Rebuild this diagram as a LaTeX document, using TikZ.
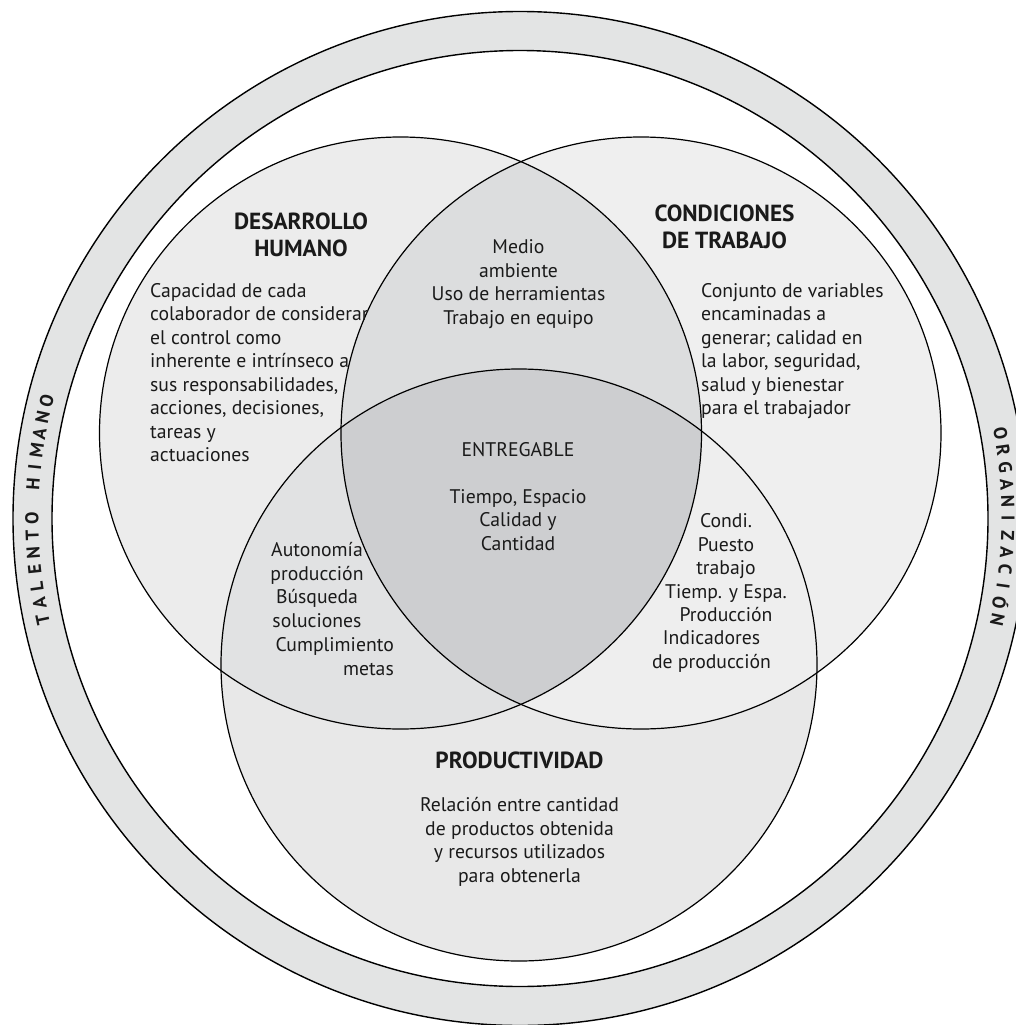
\documentclass[tikz,border=0pt]{standalone}
\usepackage{fontspec}
\setmainfont{PT Sans}
\usetikzlibrary{calc}
\definecolor{ringc}{HTML}{E3E4E4}
\definecolor{lc}{HTML}{ECECEC}
\definecolor{rc}{HTML}{EFEFEF}
\definecolor{bc}{HTML}{E8E8E8}
\definecolor{lrc}{HTML}{DCDDDE}
\definecolor{lbc}{HTML}{E1E2E3}
\definecolor{rbc}{HTML}{EEEEEE}
\definecolor{cc}{HTML}{CDCED0}
\definecolor{txc}{HTML}{1A1A1A}
\begin{document}
\begin{tikzpicture}[x=1pt,y=-1pt,
  txt/.style={font=\fontsize{19.7}{23.5}\selectfont, text=txc, inner sep=0pt},
  ttl/.style={font=\fontsize{23.3}{27}\selectfont\bfseries, text=txc, inner sep=0pt},
  ringtxt/.style={font=\fontsize{18.5}{20}\selectfont\bfseries, text=txc, inner sep=0pt},
  vline/.style={draw=black, line width=1.2pt},
  rline/.style={draw=black, line width=1.4pt}]
\useasboundingbox (0,0) rectangle (1016,1025);
\clip (0,0) rectangle (1016,1025);
\fill[white] (0,0) rectangle (1016,1025);
% outer ring
\coordinate (C) at (520,518.5);
\fill[ringc, even odd rule] (C) circle[radius=507pt] (C) circle[radius=468pt];
\draw[rline] (C) circle[radius=507pt];
\draw[rline] (C) circle[radius=468pt];
% venn circles
\coordinate (cl) at (400.5,433);
\coordinate (cr) at (641,433);
\coordinate (cb) at (519,665);
\fill[lc] (cl) ellipse[x radius=301pt, y radius=296pt];
\fill[rc] (cr) ellipse[x radius=300pt, y radius=296pt];
\fill[bc] (cb) ellipse[x radius=298pt, y radius=296pt];
\begin{scope}
  \clip (cl) ellipse[x radius=301pt, y radius=296pt];
  \fill[lrc] (cr) ellipse[x radius=300pt, y radius=296pt];
  \fill[lbc] (cb) ellipse[x radius=298pt, y radius=296pt];
\end{scope}
\begin{scope}
  \clip (cr) ellipse[x radius=300pt, y radius=296pt];
  \fill[rbc] (cb) ellipse[x radius=298pt, y radius=296pt];
\end{scope}
\begin{scope}
  \clip (cl) ellipse[x radius=301pt, y radius=296pt];
  \clip (cr) ellipse[x radius=300pt, y radius=296pt];
  \fill[cc] (cb) ellipse[x radius=298pt, y radius=296pt];
\end{scope}
\draw[vline] (cl) ellipse[x radius=301pt, y radius=296pt];
\draw[vline] (cr) ellipse[x radius=300pt, y radius=296pt];
\draw[vline] (cb) ellipse[x radius=298pt, y radius=296pt];
% texts
\node[ttl, align=center] (dhT) at (301,235) {DESARROLLO\\HUMANO};
\node[txt, align=left, anchor=west] (dhD) at (150,372.5) {Capacidad de cada\\colaborador de considerar\\el control como\\inherente e intrínseco a\\sus responsabilidades,\\acciones, decisiones,\\tareas y\\actuaciones};
\node[ttl, align=center] (ctT) at (724.5,226.4) {CONDICIONES\\DE TRABAJO};
\node[txt, align=left, anchor=west] (ctD) at (701,351.3) {Conjunto de variables\\encaminadas a\\generar; calidad en\\la labor, seguridad,\\salud y bienestar\\para el trabajador};
\node[txt, align=center] (lr) at (518.5,284) {Medio\\ambiente\\Uso de herramientas\\Trabajo en equipo};
\node[txt, align=center] (ent) at (518,496.5) {ENTREGABLE\\[23.5pt]Tiempo, Espacio\\Calidad y\\Cantidad};
\node[txt, align=center] (lb1) at (317,585) {Autonomía\\producción\\Búsqueda\\soluciones};
\node[txt, align=right, anchor=east] (lb2) at (394,656.5) {Cumplimiento\\metas};
\node[txt, align=center] (rb1) at (726,568) {Condi.\\Puesto\\trabajo\\Tiemp. y Espa.\\Producción};
\node[txt, align=center] (rb2) at (711.5,651.7) {Indicadores\\de producción};
\node[ttl] (prT) at (519.5,760.7) {PRODUCTIVIDAD};
\node[txt, align=center] (prD) at (519.5,842) {Relación entre cantidad\\de productos obtenida\\y recursos utilizados\\para obtenerla};
% ring labels
\foreach \ch/\i in {T/0,A/1,L/2,E/3,N/4,T/5,O/6,H/8,I/9,M/10,A/11,N/12,O/13} {
  \pgfmathsetmacro\ang{192-2*\i}
  \pgfmathsetmacro\rot{\ang-90}
  \node[ringtxt, rotate=\rot] (th\i) at ($(C)+(\ang:488pt)$) {\ch};
}
\foreach \ch/\i in {O/0,R/1,G/2,A/3,N/4,I/5,Z/6,A/7,C/8,I/9,Ó/10,N/11} {
  \pgfmathsetmacro\ang{10-2*\i}
  \pgfmathsetmacro\rot{\ang-90}
  \node[ringtxt, rotate=\rot] (or\i) at ($(C)+(\ang:488pt)$) {\ch};
}
\end{tikzpicture}
\end{document}
